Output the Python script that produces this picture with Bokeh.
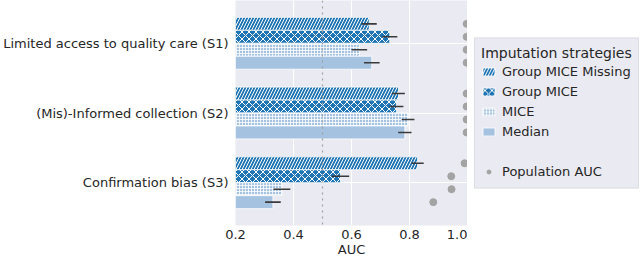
from bokeh.plotting import figure
from bokeh.layouts import row
from bokeh.models import (Range1d, FixedTicker, PrintfTickFormatter, Span, Legend,
                          LegendItem, ColumnDataSource)
from bokeh.embed import file_html
from bokeh.resources import INLINE

# ---------------- data ----------------
categories = ["Limited access to quality care (S1)",
              "(Mis)-Informed collection (S2)",
              "Confirmation bias (S3)"]
strategies = ["Group MICE Missing", "Group MICE", "MICE", "Median"]

auc_gmm = [0.661, 0.762, 0.828]
auc_gm = [0.732, 0.755, 0.562]
auc_mice = [0.627, 0.795, 0.360]
auc_median = [0.670, 0.784, 0.329]

err_gmm = [0.026, 0.022, 0.021]
err_gm = [0.026, 0.024, 0.030]
err_mice = [0.027, 0.022, 0.029]
err_median = [0.027, 0.023, 0.027]

pop_gmm = [0.997, 0.997, 0.990]
pop_gm = [0.997, 0.997, 0.944]
pop_mice = [0.997, 0.997, 0.945]
pop_median = [0.997, 0.997, 0.882]

x_ticks = [0.2, 0.4, 0.6, 0.8, 1.0]
chance_level = 0.5

# ---------------- styles ----------------
dark_blue = "#1f74b3"
light_blue = "#a5c3e0"
styles = [
    dict(fill_color=dark_blue, hatch_pattern="/", hatch_scale=6, hatch_weight=1),
    dict(fill_color=dark_blue, hatch_pattern="x", hatch_scale=7, hatch_weight=1),
    dict(fill_color=light_blue, hatch_pattern="+", hatch_scale=3, hatch_weight=0.8),
    dict(fill_color=light_blue),
]
dot_style = dict(size=7, fill_color="#a3a3a3", line_color="#a3a3a3")
bar_h = 0.186
txt = "#262626"
font = "DejaVu Sans"

p = figure(width=467, height=259, output_backend="svg", toolbar_location=None,
           x_range=Range1d(0.2, 1.0), y_range=Range1d(2.614, -0.614),
           min_border_left=234, min_border_top=0, min_border_bottom=33,
           min_border_right=0)
p.background_fill_color = "#eaeaf2"
p.border_fill_color = "white"
p.outline_line_color = None

series_auc = [auc_gmm, auc_gm, auc_mice, auc_median]
series_err = [err_gmm, err_gm, err_mice, err_median]
series_pop = [pop_gmm, pop_gm, pop_mice, pop_median]

for j, (vals, errs, pops) in enumerate(zip(series_auc, series_err, series_pop)):
    ys = [i + (j - 1.5) * bar_h for i in range(len(categories))]
    src = ColumnDataSource(dict(
        y=ys, v=vals, lo=[v - e for v, e in zip(vals, errs)],
        hi=[v + e for v, e in zip(vals, errs)], pop=pops))
    p.hbar(y="y", left=0, right="v", height=bar_h, source=src,
           line_color="white", line_width=0.8, hatch_color="white", **styles[j])
    p.segment(x0="lo", x1="hi", y0="y", y1="y", source=src,
              line_color="#3a3a3a", line_width=1.6)
    p.scatter(x="pop", y="y", source=src, **dot_style)

p.add_layout(Span(location=chance_level, dimension="height", line_color="#a0a0a0",
                  line_dash="dotted", line_width=1.2))

# axes
p.xaxis.ticker = FixedTicker(ticks=x_ticks)
p.xaxis.formatter = PrintfTickFormatter(format="%.1f")
p.xaxis.axis_label = "AUC"
p.yaxis.ticker = FixedTicker(ticks=list(range(len(categories))))
p.yaxis.major_label_overrides = {i: c for i, c in enumerate(categories)}
for ax in (p.xaxis, p.yaxis):
    ax.axis_line_color = None
    ax.major_tick_line_color = None
    ax.minor_tick_line_color = None
    ax.major_tick_out = 0
    ax.major_tick_in = 0
    ax.minor_tick_out = 0
    ax.major_label_text_color = txt
    ax.major_label_text_font = font
    ax.axis_label_text_color = txt
    ax.axis_label_text_font = font
    ax.axis_label_text_font_style = "normal"
p.xaxis.major_label_text_font_size = "13px"
p.xaxis.axis_label_text_font_size = "13px"
p.xaxis.major_label_standoff = 4
p.xaxis.axis_label_standoff = 0
p.yaxis.major_label_text_font_size = "13px"
p.yaxis.major_label_standoff = 7

p.xgrid.grid_line_color = "white"
p.xgrid.grid_line_width = 1
p.ygrid.grid_line_color = "white"
p.ygrid.grid_line_width = 1

# ---------------- legend panel ----------------
lg = figure(width=173, height=259, output_backend="svg", toolbar_location=None,
            x_range=Range1d(0, 1), y_range=Range1d(0, 1),
            x_axis_location=None, y_axis_location=None,
            min_border_left=7, min_border_right=0, min_border_top=0,
            min_border_bottom=33)
lg.outline_line_color = None
lg.background_fill_color = "white"
lg.border_fill_color = "white"
lg.xgrid.visible = False
lg.ygrid.visible = False

# legend proxies: zero-size glyphs that only carry the style for the legend
items = []
for s, st in zip(strategies, styles):
    r = lg.hbar(y=[-5.0], left=[0.0], right=[0.0], height=0.0,
                line_color="white", line_width=0.8, hatch_color="white", **st)
    items.append(LegendItem(label=s, renderers=[r]))
blank = lg.scatter(x=[-5.0], y=[-5.0], fill_alpha=0, line_alpha=0)
items.append(LegendItem(label=" ", renderers=[blank]))
pr = lg.scatter(x=[-5.0], y=[-5.0], **dot_style)
items.append(LegendItem(label="Population AUC", renderers=[pr]))

legend = Legend(items=items, location="center_left", margin=0, padding=6,
                spacing=0, label_height=20, glyph_height=10, glyph_width=15,
                label_standoff=6, title="Imputation strategies",
                title_text_font_size="14px", title_text_font=font,
                title_text_color=txt, title_text_font_style="normal",
                title_standoff=1,
                label_text_font_size="13px", label_text_font=font,
                label_text_color=txt,
                background_fill_color="#eaeaf2", background_fill_alpha=1.0,
                border_line_color="#cfcfd6", border_line_width=1)
lg.add_layout(legend, "center")

layout = row(p, lg, spacing=0)
open("out.html", "w").write(file_html(layout, INLINE))
